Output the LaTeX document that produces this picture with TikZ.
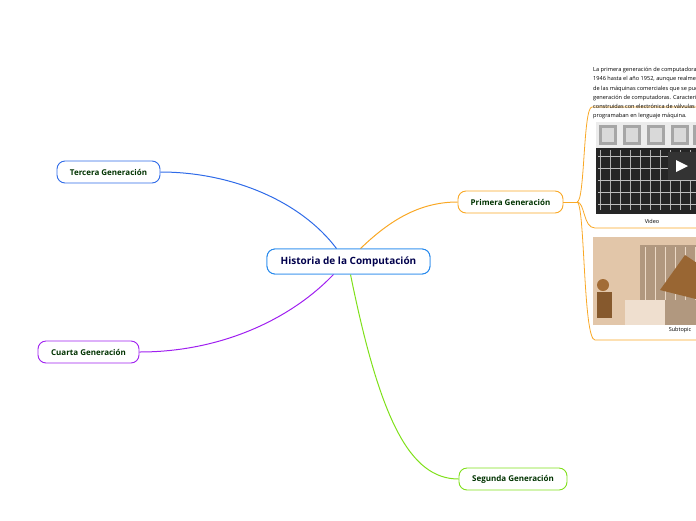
\documentclass[tikz,border=0pt]{standalone}
\usepackage{fontspec}
\setmainfont{Open Sans}
\begin{document}
\begin{tikzpicture}[x=1pt,y=-1pt,
  topic/.style={draw=#1,line width=0.9pt,rounded corners=8pt,fill=white,font=\bfseries\fontsize{8}{9}\selectfont,text=green!20!black,inner sep=0pt},
  con/.style={draw=#1,line width=1pt}]
\useasboundingbox (0,0) rectangle (696,520);
\clip (0,0) rectangle (696,520);
\definecolor{bl}{HTML}{2F6BE8}\definecolor{pu}{HTML}{A020F0}
\definecolor{og}{HTML}{F9A825}\definecolor{lg}{HTML}{7FE01A}
\node[topic=bl!80!cyan,minimum width=163pt,minimum height=25pt,text=blue!30!black,font=\bfseries\fontsize{10}{12}\selectfont] (c) at (348.5,261.5) {Historia de la Computación};
\node[topic=bl,minimum width=103pt,minimum height=22pt] (t) at (108.5,172) {Tercera Generación};
\node[topic=pu,minimum width=101pt,minimum height=22pt] (q) at (88.5,352) {Cuarta Generación};
\node[topic=og,minimum width=105pt,minimum height=22pt] (p) at (510.5,202) {Primera Generación};
\node[topic=lg,minimum width=108pt,minimum height=22pt] (s) at (513,479) {Segunda Generación};
\begin{scope}[on background layer/.try]
\end{scope}
\draw[con=bl] (c.north)++(-12,0) coordinate (c1) .. controls (300,200) and (230,172) .. (t.east);
\draw[con=og] (c.north)++(12,0) coordinate (c2) .. controls (390,220) and (420,202) .. (p.west);
\draw[con=pu] (c.south)++(-15,0) coordinate (c3) .. controls (290,320) and (220,352) .. (q.east);
\draw[con=lg] (c.south)++(2,0) coordinate (c4) .. controls (380,420) and (410,479) .. (s.west);
\node[topic=bl!80!cyan,minimum width=163pt,minimum height=25pt,text=blue!30!black,font=\bfseries\fontsize{10}{12}\selectfont] at (348.5,261.5) {Historia de la Computación};
% right branch
\coordinate (b) at (577,202);
\draw[con=og,line width=0.8pt] (p.east) -- (b);
\draw[con=og,line width=0.8pt] (b) .. controls (585,202) and (583,107) .. (592,107) -- (696,107);
\draw[con=og,line width=0.8pt] (b) .. controls (585,202) and (583,228) .. (595,228) -- (696,228);
\draw[con=og,line width=0.8pt] (b) .. controls (585,202) and (583,340) .. (595,340) -- (696,340);
\node[anchor=north west,align=left,font=\fontsize{5.6}{9.3}\selectfont,inner sep=0pt] (txt) at (593,67) {La primera generación de computadoras abarcó desde el año\\1946 hasta el año 1952, aunque realmente se considera a partir\\de las máquinas comerciales que se pueden considerar la primera\\generación de computadoras. Características: estaban\\construidas con electrónica de válvulas y se\\programaban en lenguaje máquina.};
% image 1
\fill[gray!15] (596,122) rectangle (700,148);
\foreach \xx in {608,632,656,680,702}{\fill[gray!70] (\xx-9,125) rectangle (\xx+9,145);\fill[gray!30] (\xx-6,128) rectangle (\xx+6,142);}
\fill[black!85] (596,148) rectangle (700,214);
\foreach \xx in {600,610,...,696}{\draw[gray!60,line width=0.5pt] (\xx,150) -- (\xx,210);}
\foreach \yy in {156,168,180,192,204}{\draw[gray!50,line width=0.5pt] (598,\yy) -- (700,\yy);}
\fill[black!80] (668,152) rectangle (700,180);
\fill[white] (676,160) -- (688,166) -- (676,172) -- cycle;
\node[font=\fontsize{5.5}{6}\selectfont] (v) at (652,221) {Video};
% image 2
\fill[brown!45!white] (593,237) rectangle (700,325);
\fill[brown!65!black!60] (640,245) rectangle (700,325);
\foreach \xx in {645,655,...,695}{\draw[brown!30,line width=0.6pt] (\xx,247) -- (\xx,300);}
\fill[brown!80!black] (660,290) -- (685,255) -- (700,265) -- (700,300) -- cycle;
\fill[brown!85!black] (603,285) circle (6);
\fill[brown!70!black] (597,292) rectangle (612,318);
\fill[brown!25] (625,300) rectangle (665,325);
\node[font=\fontsize{5.5}{6}\selectfont] (st) at (680,330) {Subtopic};
\end{tikzpicture}
\end{document}
